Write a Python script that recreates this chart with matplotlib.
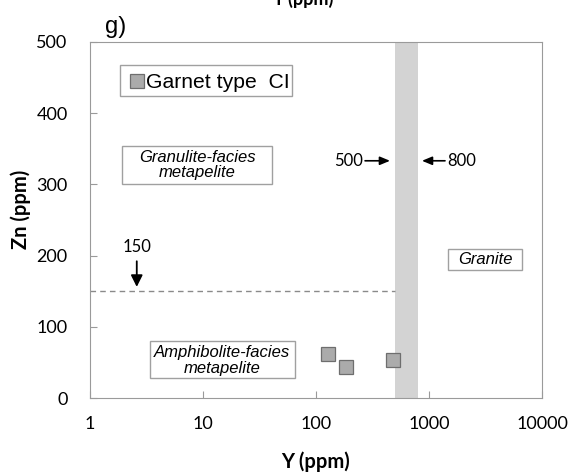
import matplotlib.pyplot as plt
from matplotlib.patches import Rectangle

# Garnet type CI analyses
y_ppm = [128, 185, 480]
zn_ppm = [62, 44, 53]

# Y granite threshold band and Zn metapelite threshold
y_band = [500, 800]
zn_limit = 150

x_ticks = [1, 10, 100, 1000, 10000]
y_ticks = [0, 100, 200, 300, 400, 500]

plt.rcParams['font.family'] = ['Liberation Sans', 'DejaVu Sans']
num_font = 'Lato'

fig = plt.figure(figsize=(5.76, 4.75), dpi=100)
ax = fig.add_axes([0.156, 0.162, 0.785, 0.75])

ax.set_xscale('log')
ax.set_xlim(1, 10000)
ax.set_ylim(0, 500)

ax.axvspan(y_band[0], y_band[1], color='#d3d3d3', lw=0, zorder=1)
ax.plot([1, y_band[0]], [zn_limit, zn_limit], ls=(0, (4, 3)), color='#8a8a8a', lw=1, zorder=2)

ax.plot(y_ppm, zn_ppm, 's', ms=9.5, mfc='#ababab', mec='#6e6e6e', mew=0.9, ls='none', zorder=3)

ax.set_xticks(x_ticks)
ax.set_xticklabels([str(t) for t in x_ticks], fontfamily=num_font)
ax.set_yticks(y_ticks)
ax.set_yticklabels([str(t) for t in y_ticks], fontfamily=num_font)
ax.minorticks_off()
ax.tick_params(direction='in', length=5, color='#9a9a9a', labelsize=13)
ax.tick_params(axis='x', pad=13)
ax.tick_params(axis='y', pad=16)
for s in ax.spines.values():
    s.set_color('#9a9a9a')

ax.set_xlabel('Y (ppm)', fontsize=14.5, fontweight='bold', fontfamily=num_font, labelpad=14)
ax.set_ylabel('Zn (ppm)', fontsize=14.5, fontweight='bold', fontfamily=num_font)
ax.yaxis.set_label_coords(-0.13, 0.53)

# clipped title from the panel above
fig.text(0.525, 1.002, 'Y (ppm)', fontsize=13, fontweight='bold', fontfamily=num_font,
         ha='center', va='center')
fig.text(0.182, 0.92, 'g)', fontsize=17, ha='left', va='bottom')


def frame(x0, y0, x1, y1):
    # outlined white box in axes fraction coordinates
    ax.add_patch(Rectangle((x0, y0), x1 - x0, y1 - y0, transform=ax.transAxes,
                           fc='white', ec='#a0a0a0', lw=1, zorder=4))


# legend box
frame(0.066, 0.848, 0.447, 0.935)
ax.plot([2.6], [445], 's', ms=10, mfc='#ababab', mec='#6e6e6e', mew=0.9, zorder=5)
ax.text(3.15, 443, 'Garnet type  CI', fontsize=15.2, ha='left', va='center', zorder=5)

frame(0.071, 0.601, 0.403, 0.708)
ax.text(8.9, 327, 'Granulite-facies\nmetapelite', fontsize=12, style='italic',
        ha='center', va='center', linespacing=1.05, zorder=5)
frame(0.133, 0.056, 0.453, 0.160)
ax.text(14.8, 53, 'Amphibolite-facies\nmetapelite', fontsize=12, style='italic',
        ha='center', va='center', linespacing=1.05, zorder=5)
frame(0.792, 0.360, 0.956, 0.419)
ax.text(3150, 194, 'Granite', fontsize=12, style='italic', ha='center', va='center', zorder=5)

# threshold annotations
arrow = dict(arrowstyle='-|>,head_length=0.6,head_width=0.25', color='black', lw=1.2,
             shrinkA=0, shrinkB=0)
ax.annotate('', xy=(452, 333), xytext=(272, 333), arrowprops=arrow)
ax.text(262, 333, '500', fontsize=12, fontfamily=num_font, ha='right', va='center')
ax.annotate('', xy=(867, 333), xytext=(1386, 333), arrowprops=arrow)
ax.text(1440, 333, '800', fontsize=12, fontfamily=num_font, ha='left', va='center')

ax.annotate('', xy=(2.6, 156), xytext=(2.6, 192),
            arrowprops=dict(arrowstyle='-|>,head_length=0.7,head_width=0.35', color='black',
                            lw=1.3, shrinkA=0, shrinkB=0))
ax.text(2.6, 201, '150', fontsize=12, fontfamily=num_font, ha='center', va='bottom')

fig.savefig('out.png', dpi=100)
